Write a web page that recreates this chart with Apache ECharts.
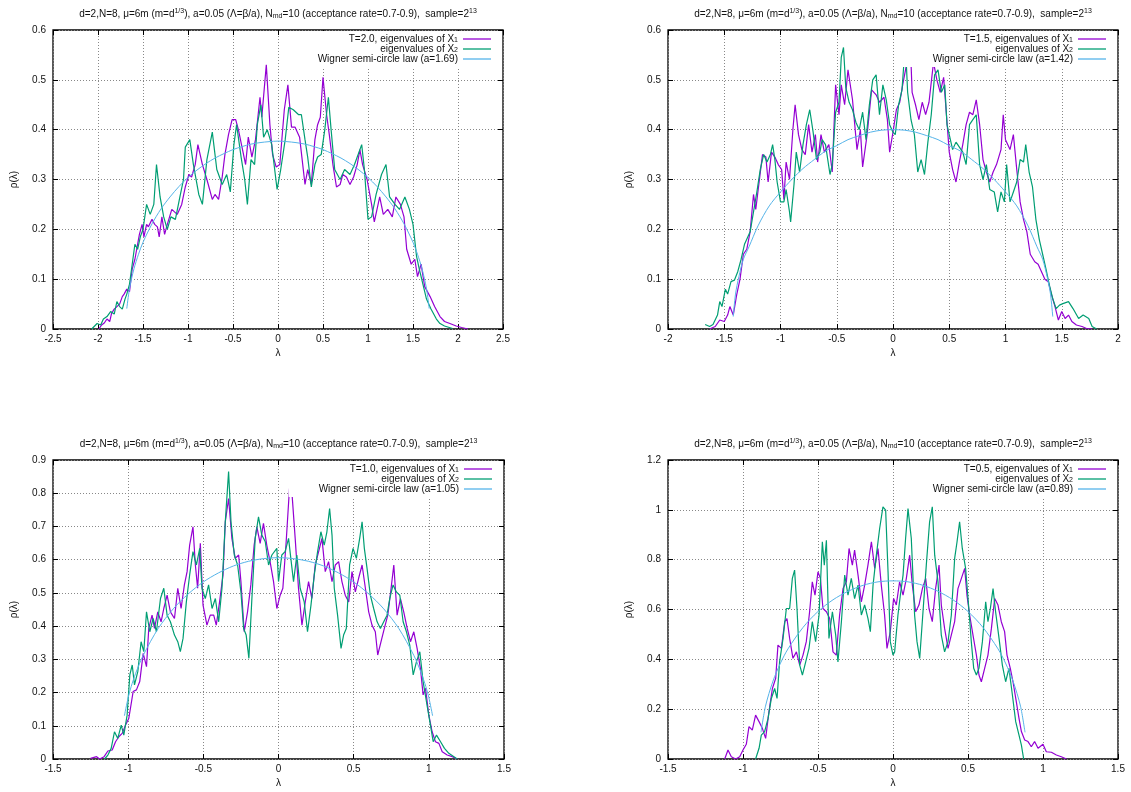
<!DOCTYPE html>
<html><head><meta charset="utf-8">
<script src="https://cdn.jsdelivr.net/npm/echarts@6/dist/echarts.min.js"></script>
<style>html,body{margin:0;padding:0;background:#fff}#c{width:1131px;height:792px}</style>
</head><body><div id="c"></div>
<script>
// ---------- DATA ----------
const temps = ['2.0', '1.5', '1.0', '0.5'];
const wignerA = ['1.69', '1.42', '1.05', '0.89'];
const xRanges = [[-2.5, 2.5, 0.5], [-2, 2, 0.5], [-1.5, 1.5, 0.5], [-1.5, 1.5, 0.5]];
const yRanges = [[0, 0.6, 0.1], [0, 0.6, 0.1], [0, 0.9, 0.1], [0, 1.2, 0.2]];

// panel 1 : T=2.0
const p1X1 = [[-1.99,0],[-1.96,0.008],[-1.93,0.012],[-1.90,0.02],[-1.87,0.015],[-1.85,0.031],[-1.82,0.04],[-1.79,0.045],[-1.76,0.05],[-1.73,0.065],[-1.71,0.07],[-1.68,0.08],[-1.65,0.075],[-1.62,0.12],[-1.59,0.14],[-1.57,0.16],[-1.54,0.19],[-1.51,0.21],[-1.49,0.185],[-1.46,0.21],[-1.44,0.205],[-1.40,0.22],[-1.37,0.21],[-1.34,0.205],[-1.32,0.185],[-1.29,0.225],[-1.26,0.19],[-1.23,0.21],[-1.21,0.21],[-1.18,0.24],[-1.15,0.235],[-1.12,0.23],[-1.07,0.25],[-1.03,0.285],[-0.99,0.31],[-0.96,0.305],[-0.92,0.33],[-0.89,0.37],[-0.84,0.33],[-0.79,0.30],[-0.73,0.26],[-0.70,0.27],[-0.66,0.26],[-0.62,0.305],[-0.59,0.35],[-0.55,0.39],[-0.51,0.42],[-0.47,0.42],[-0.44,0.40],[-0.40,0.365],[-0.36,0.33],[-0.33,0.385],[-0.29,0.345],[-0.25,0.38],[-0.20,0.465],[-0.18,0.425],[-0.13,0.53],[-0.09,0.41],[-0.06,0.35],[-0.02,0.325],[0.02,0.33],[0.07,0.44],[0.11,0.49],[0.15,0.405],[0.19,0.405],[0.24,0.385],[0.30,0.29],[0.33,0.32],[0.37,0.29],[0.41,0.38],[0.44,0.41],[0.47,0.425],[0.50,0.505],[0.54,0.43],[0.57,0.39],[0.61,0.33],[0.65,0.285],[0.69,0.29],[0.72,0.31],[0.76,0.305],[0.80,0.29],[0.84,0.305],[0.88,0.33],[0.91,0.36],[0.94,0.33],[0.99,0.30],[1.04,0.25],[1.07,0.215],[1.13,0.265],[1.17,0.23],[1.22,0.24],[1.27,0.225],[1.31,0.265],[1.36,0.25],[1.40,0.225],[1.43,0.16],[1.48,0.13],[1.52,0.14],[1.55,0.105],[1.59,0.13],[1.63,0.085],[1.66,0.075],[1.69,0.065],[1.74,0.045],[1.80,0.025],[1.85,0.015],[1.91,0.011],[1.98,0.006],[2.04,0.003],[2.11,0]];
const p1X2 = [[-2.07,0],[-2.01,0.011],[-1.97,0.008],[-1.94,0.02],[-1.90,0.025],[-1.86,0.035],[-1.82,0.03],[-1.79,0.055],[-1.76,0.045],[-1.73,0.04],[-1.70,0.06],[-1.68,0.07],[-1.65,0.09],[-1.62,0.13],[-1.59,0.17],[-1.56,0.16],[-1.53,0.185],[-1.50,0.2],[-1.46,0.25],[-1.42,0.23],[-1.38,0.25],[-1.35,0.33],[-1.31,0.265],[-1.27,0.225],[-1.23,0.20],[-1.19,0.225],[-1.14,0.22],[-1.09,0.265],[-1.05,0.30],[-1.03,0.365],[-0.98,0.38],[-0.94,0.33],[-0.88,0.27],[-0.84,0.25],[-0.79,0.34],[-0.73,0.395],[-0.68,0.32],[-0.62,0.29],[-0.57,0.31],[-0.53,0.275],[-0.49,0.37],[-0.46,0.41],[-0.41,0.345],[-0.37,0.30],[-0.34,0.25],[-0.30,0.34],[-0.26,0.33],[-0.23,0.41],[-0.19,0.45],[-0.16,0.385],[-0.12,0.40],[-0.07,0.37],[-0.01,0.28],[0.03,0.32],[0.08,0.38],[0.12,0.445],[0.17,0.44],[0.23,0.43],[0.26,0.43],[0.30,0.38],[0.33,0.345],[0.37,0.285],[0.41,0.33],[0.44,0.345],[0.48,0.35],[0.52,0.40],[0.56,0.465],[0.59,0.40],[0.63,0.32],[0.69,0.30],[0.74,0.32],[0.80,0.31],[0.85,0.33],[0.93,0.37],[0.96,0.32],[1.00,0.22],[1.04,0.225],[1.09,0.27],[1.15,0.31],[1.20,0.33],[1.24,0.265],[1.30,0.25],[1.35,0.24],[1.41,0.265],[1.46,0.24],[1.50,0.21],[1.54,0.145],[1.57,0.12],[1.61,0.09],[1.65,0.06],[1.70,0.04],[1.76,0.02],[1.80,0.011],[1.85,0.006],[1.94,0.001]];
const p1W = [[-1.68,0.041],[-1.65,0.081],[-1.6,0.121],[-1.55,0.150],[-1.5,0.174],[-1.4,0.211],[-1.3,0.241],[-1.2,0.265],[-1.1,0.286],[-1.0,0.304],[-0.9,0.319],[-0.8,0.332],[-0.7,0.343],[-0.6,0.352],[-0.5,0.360],[-0.4,0.366],[-0.3,0.371],[-0.2,0.374],[-0.1,0.376],[0,0.377],[0.1,0.376],[0.2,0.374],[0.3,0.371],[0.4,0.366],[0.5,0.360],[0.6,0.352],[0.7,0.343],[0.8,0.332],[0.9,0.319],[1.0,0.304],[1.1,0.286],[1.2,0.265],[1.3,0.241],[1.4,0.211],[1.5,0.174],[1.55,0.150],[1.6,0.121],[1.65,0.081],[1.68,0.041]];

// panel 2 : T=1.5
const p2X1 = [[-1.63,0],[-1.58,0.005],[-1.54,0.018],[-1.50,0.015],[-1.47,0.028],[-1.45,0.045],[-1.42,0.028],[-1.39,0.068],[-1.36,0.10],[-1.33,0.15],[-1.30,0.16],[-1.27,0.195],[-1.24,0.27],[-1.22,0.24],[-1.19,0.295],[-1.16,0.35],[-1.13,0.345],[-1.11,0.295],[-1.08,0.355],[-1.05,0.345],[-1.02,0.33],[-0.99,0.32],[-0.97,0.26],[-0.95,0.335],[-0.92,0.30],[-0.89,0.40],[-0.87,0.45],[-0.84,0.39],[-0.81,0.36],[-0.78,0.35],[-0.75,0.41],[-0.72,0.355],[-0.69,0.39],[-0.67,0.335],[-0.64,0.39],[-0.61,0.355],[-0.57,0.37],[-0.54,0.315],[-0.51,0.49],[-0.48,0.43],[-0.46,0.49],[-0.43,0.45],[-0.40,0.52],[-0.36,0.46],[-0.32,0.36],[-0.29,0.40],[-0.27,0.325],[-0.23,0.39],[-0.19,0.48],[-0.15,0.47],[-0.12,0.455],[-0.08,0.465],[-0.05,0.42],[-0.03,0.355],[0.00,0.395],[0.03,0.44],[0.06,0.455],[0.09,0.495],[0.12,0.53],[0.15,0.595],[0.17,0.475],[0.20,0.45],[0.23,0.42],[0.26,0.455],[0.29,0.43],[0.32,0.455],[0.36,0.535],[0.39,0.50],[0.42,0.475],[0.45,0.505],[0.48,0.415],[0.50,0.355],[0.53,0.32],[0.56,0.295],[0.59,0.335],[0.62,0.37],[0.65,0.41],[0.68,0.435],[0.71,0.43],[0.74,0.46],[0.77,0.41],[0.80,0.34],[0.83,0.315],[0.86,0.295],[0.89,0.315],[0.92,0.33],[0.96,0.36],[0.98,0.43],[1.00,0.38],[1.04,0.36],[1.07,0.39],[1.10,0.32],[1.13,0.255],[1.16,0.22],[1.19,0.195],[1.22,0.15],[1.26,0.135],[1.29,0.13],[1.32,0.115],[1.35,0.10],[1.38,0.095],[1.41,0.068],[1.44,0.045],[1.47,0.018],[1.50,0.035],[1.53,0.021],[1.56,0.028],[1.59,0.015],[1.63,0.008],[1.68,0.005],[1.72,0.001],[1.77,0]];
const p2X2 = [[-1.67,0.009],[-1.63,0.005],[-1.60,0.009],[-1.56,0.028],[-1.54,0.055],[-1.52,0.045],[-1.49,0.08],[-1.47,0.07],[-1.44,0.095],[-1.41,0.098],[-1.38,0.115],[-1.35,0.14],[-1.32,0.17],[-1.30,0.18],[-1.27,0.195],[-1.24,0.235],[-1.21,0.275],[-1.18,0.32],[-1.15,0.35],[-1.12,0.335],[-1.09,0.35],[-1.07,0.37],[-1.05,0.34],[-1.03,0.295],[-1.00,0.255],[-0.97,0.255],[-0.95,0.28],[-0.92,0.235],[-0.91,0.215],[-0.88,0.29],[-0.86,0.355],[-0.83,0.315],[-0.80,0.37],[-0.77,0.41],[-0.74,0.44],[-0.71,0.395],[-0.68,0.34],[-0.65,0.355],[-0.63,0.38],[-0.60,0.37],[-0.56,0.31],[-0.54,0.33],[-0.51,0.435],[-0.48,0.455],[-0.46,0.545],[-0.44,0.565],[-0.42,0.485],[-0.39,0.455],[-0.36,0.44],[-0.33,0.415],[-0.30,0.40],[-0.27,0.435],[-0.24,0.38],[-0.21,0.45],[-0.18,0.50],[-0.15,0.51],[-0.12,0.43],[-0.09,0.49],[-0.06,0.46],[-0.03,0.41],[0.00,0.395],[0.02,0.39],[0.05,0.45],[0.08,0.48],[0.11,0.575],[0.13,0.475],[0.16,0.42],[0.19,0.39],[0.22,0.315],[0.25,0.34],[0.28,0.31],[0.31,0.375],[0.34,0.43],[0.37,0.51],[0.40,0.52],[0.43,0.475],[0.46,0.49],[0.48,0.41],[0.50,0.39],[0.53,0.36],[0.56,0.375],[0.59,0.365],[0.62,0.355],[0.65,0.33],[0.68,0.41],[0.71,0.42],[0.74,0.43],[0.77,0.33],[0.80,0.30],[0.83,0.33],[0.86,0.28],[0.90,0.275],[0.93,0.235],[0.96,0.275],[0.99,0.255],[1.01,0.33],[1.04,0.255],[1.07,0.275],[1.10,0.295],[1.13,0.34],[1.16,0.335],[1.18,0.37],[1.21,0.315],[1.24,0.285],[1.27,0.22],[1.30,0.18],[1.33,0.15],[1.36,0.12],[1.39,0.088],[1.42,0.061],[1.45,0.041],[1.48,0.048],[1.51,0.051],[1.56,0.055],[1.60,0.041],[1.65,0.021],[1.69,0.028],[1.74,0.021],[1.77,0.005],[1.81,0]];
const p2W = [[-1.42,0.025],[-1.40,0.07],[-1.37,0.105],[-1.33,0.14],[-1.28,0.165],[-1.2,0.207],[-1.1,0.247],[-1.0,0.275],[-0.9,0.30],[-0.8,0.322],[-0.7,0.340],[-0.6,0.357],[-0.5,0.368],[-0.4,0.380],[-0.3,0.388],[-0.2,0.395],[-0.1,0.399],[0,0.40],[0.1,0.399],[0.2,0.395],[0.3,0.388],[0.4,0.380],[0.5,0.368],[0.6,0.357],[0.7,0.340],[0.8,0.322],[0.9,0.30],[1.0,0.275],[1.1,0.247],[1.2,0.207],[1.28,0.165],[1.33,0.14],[1.37,0.105],[1.40,0.07],[1.42,0.025]];

// panel 3 : T=1.0
const p3X1 = [[-1.25,0.002],[-1.21,0.007],[-1.19,0],[-1.16,0.007],[-1.135,0.024],[-1.106,0.027],[-1.084,0.052],[-1.062,0.067],[-1.04,0.077],[-1.018,0.102],[-0.996,0.122],[-0.985,0.152],[-0.967,0.203],[-0.945,0.208],[-0.923,0.233],[-0.90,0.318],[-0.878,0.278],[-0.863,0.393],[-0.841,0.433],[-0.825,0.393],[-0.803,0.443],[-0.781,0.413],[-0.763,0.453],[-0.741,0.493],[-0.719,0.443],[-0.692,0.423],[-0.670,0.514],[-0.648,0.453],[-0.626,0.524],[-0.608,0.564],[-0.591,0.644],[-0.569,0.699],[-0.553,0.584],[-0.538,0.514],[-0.52,0.649],[-0.502,0.463],[-0.476,0.403],[-0.454,0.433],[-0.431,0.433],[-0.414,0.403],[-0.392,0.473],[-0.369,0.554],[-0.354,0.714],[-0.332,0.784],[-0.31,0.664],[-0.288,0.604],[-0.265,0.614],[-0.25,0.534],[-0.228,0.383],[-0.206,0.443],[-0.184,0.524],[-0.162,0.644],[-0.144,0.699],[-0.122,0.649],[-0.10,0.709],[-0.078,0.644],[-0.056,0.594],[-0.033,0.534],[-0.011,0.453],[0.011,0.493],[0.029,0.514],[0.051,0.654],[0.073,0.814],[0.089,0.804],[0.111,0.664],[0.133,0.514],[0.156,0.403],[0.178,0.473],[0.20,0.534],[0.222,0.483],[0.244,0.584],[0.267,0.624],[0.289,0.664],[0.311,0.564],[0.333,0.594],[0.356,0.534],[0.378,0.584],[0.40,0.594],[0.422,0.534],[0.444,0.493],[0.467,0.473],[0.489,0.564],[0.511,0.503],[0.533,0.544],[0.556,0.584],[0.578,0.514],[0.60,0.443],[0.622,0.403],[0.644,0.383],[0.66,0.313],[0.682,0.353],[0.704,0.393],[0.727,0.433],[0.749,0.514],[0.767,0.584],[0.789,0.433],[0.811,0.483],[0.833,0.443],[0.856,0.393],[0.878,0.353],[0.90,0.383],[0.922,0.333],[0.944,0.273],[0.962,0.193],[0.978,0.213],[1.0,0.132],[1.022,0.082],[1.044,0.052],[1.067,0.047],[1.089,0.022],[1.122,0.012],[1.156,0.007],[1.189,0]];
const p3X2 = [[-1.157,0],[-1.135,0.012],[-1.113,0.032],[-1.091,0.082],[-1.069,0.062],[-1.046,0.102],[-1.029,0.072],[-1.007,0.132],[-0.989,0.253],[-0.973,0.283],[-0.958,0.223],[-0.936,0.263],[-0.914,0.353],[-0.896,0.323],[-0.878,0.443],[-0.856,0.383],[-0.834,0.423],[-0.812,0.383],[-0.785,0.483],[-0.763,0.514],[-0.741,0.433],[-0.719,0.413],[-0.692,0.373],[-0.670,0.353],[-0.653,0.323],[-0.635,0.363],[-0.613,0.473],[-0.591,0.554],[-0.569,0.624],[-0.546,0.584],[-0.524,0.634],[-0.509,0.514],[-0.487,0.483],[-0.465,0.524],[-0.442,0.453],[-0.42,0.483],[-0.398,0.413],[-0.376,0.514],[-0.354,0.714],[-0.332,0.865],[-0.316,0.714],[-0.294,0.614],[-0.272,0.584],[-0.25,0.503],[-0.232,0.393],[-0.215,0.373],[-0.197,0.303],[-0.177,0.483],[-0.155,0.664],[-0.133,0.729],[-0.111,0.674],[-0.088,0.654],[-0.066,0.584],[-0.044,0.614],[-0.011,0.634],[0,0.534],[0.022,0.614],[0.044,0.624],[0.067,0.664],[0.082,0.604],[0.10,0.534],[0.122,0.614],[0.144,0.514],[0.171,0.473],[0.193,0.383],[0.216,0.463],[0.238,0.554],[0.26,0.624],[0.282,0.684],[0.304,0.644],[0.322,0.684],[0.34,0.754],[0.356,0.674],[0.371,0.514],[0.393,0.433],[0.416,0.333],[0.433,0.373],[0.451,0.393],[0.473,0.584],[0.496,0.634],[0.518,0.604],[0.54,0.664],[0.556,0.714],[0.571,0.634],[0.589,0.574],[0.611,0.493],[0.633,0.453],[0.656,0.413],[0.678,0.393],[0.70,0.413],[0.722,0.433],[0.74,0.483],[0.762,0.524],[0.784,0.503],[0.807,0.493],[0.829,0.413],[0.851,0.383],[0.873,0.343],[0.896,0.253],[0.918,0.293],[0.94,0.323],[0.962,0.233],[0.984,0.173],[1.007,0.112],[1.029,0.052],[1.051,0.072],[1.078,0.052],[1.104,0.032],[1.133,0.017],[1.167,0.007],[1.189,0]];
const p3W = [[-1.025,0.13],[-1.0,0.185],[-0.98,0.218],[-0.95,0.258],[-0.9,0.312],[-0.8,0.393],[-0.7,0.452],[-0.6,0.497],[-0.5,0.533],[-0.4,0.560],[-0.3,0.581],[-0.2,0.595],[-0.1,0.603],[0,0.606],[0.1,0.603],[0.2,0.595],[0.3,0.581],[0.4,0.560],[0.5,0.533],[0.6,0.497],[0.7,0.452],[0.8,0.393],[0.9,0.312],[0.95,0.258],[0.98,0.218],[1.0,0.185],[1.025,0.13]];

// panel 4 : T=0.5
const p4X1 = [[-1.122,0],[-1.10,0.036],[-1.078,0.009],[-1.049,0],[-1.022,0.009],[-1.0,0.036],[-0.978,0.059],[-0.96,0.13],[-0.938,0.116],[-0.916,0.176],[-0.893,0.15],[-0.871,0.123],[-0.849,0.083],[-0.827,0.19],[-0.804,0.283],[-0.782,0.324],[-0.767,0.457],[-0.744,0.444],[-0.722,0.551],[-0.707,0.564],[-0.689,0.484],[-0.667,0.404],[-0.644,0.43],[-0.622,0.377],[-0.60,0.417],[-0.578,0.471],[-0.556,0.591],[-0.538,0.711],[-0.52,0.658],[-0.50,0.751],[-0.484,0.725],[-0.467,0.604],[-0.444,0.591],[-0.422,0.564],[-0.40,0.43],[-0.378,0.417],[-0.356,0.578],[-0.333,0.684],[-0.311,0.711],[-0.293,0.845],[-0.271,0.778],[-0.256,0.838],[-0.233,0.738],[-0.211,0.631],[-0.189,0.698],[-0.167,0.778],[-0.144,0.872],[-0.122,0.765],[-0.10,0.845],[-0.078,0.698],[-0.056,0.578],[-0.04,0.444],[-0.018,0.511],[0.004,0.644],[0.022,0.618],[0.044,0.711],[0.067,0.658],[0.089,0.725],[0.111,0.818],[0.129,0.698],[0.151,0.591],[0.173,0.618],[0.196,0.684],[0.218,0.725],[0.24,0.604],[0.262,0.551],[0.284,0.684],[0.307,0.778],[0.322,0.618],[0.344,0.524],[0.367,0.444],[0.389,0.498],[0.411,0.551],[0.433,0.684],[0.456,0.725],[0.478,0.765],[0.493,0.658],[0.511,0.578],[0.533,0.498],[0.556,0.417],[0.573,0.337],[0.589,0.31],[0.611,0.364],[0.633,0.417],[0.656,0.524],[0.678,0.644],[0.70,0.618],[0.722,0.551],[0.744,0.511],[0.76,0.417],[0.782,0.364],[0.80,0.31],[0.822,0.23],[0.84,0.163],[0.856,0.11],[0.878,0.076],[0.90,0.07],[0.922,0.049],[0.944,0.07],[0.967,0.043],[1.0,0.059],[1.022,0.029],[1.056,0.027],[1.089,0.016],[1.122,0.009],[1.156,0]];
const p4X2 = [[-0.916,0],[-0.893,0.043],[-0.878,0.096],[-0.856,0.11],[-0.833,0.163],[-0.811,0.243],[-0.789,0.283],[-0.773,0.243],[-0.756,0.39],[-0.733,0.484],[-0.711,0.604],[-0.689,0.604],[-0.671,0.725],[-0.656,0.758],[-0.64,0.604],[-0.622,0.377],[-0.604,0.337],[-0.582,0.39],[-0.56,0.444],[-0.538,0.551],[-0.516,0.471],[-0.493,0.578],[-0.471,0.872],[-0.458,0.778],[-0.444,0.878],[-0.427,0.484],[-0.404,0.591],[-0.382,0.497],[-0.367,0.39],[-0.344,0.551],[-0.322,0.738],[-0.30,0.658],[-0.278,0.725],[-0.256,0.644],[-0.233,0.698],[-0.211,0.578],[-0.189,0.618],[-0.167,0.564],[-0.151,0.511],[-0.133,0.698],[-0.111,0.818],[-0.089,0.925],[-0.067,1.012],[-0.049,0.999],[-0.033,0.751],[-0.018,0.471],[0,0.417],[0.011,0.43],[0.033,0.578],[0.049,0.658],[0.067,0.738],[0.084,0.885],[0.10,1.005],[0.122,0.885],[0.144,0.578],[0.16,0.471],[0.178,0.404],[0.20,0.591],[0.222,0.778],[0.244,0.952],[0.262,1.012],[0.278,0.818],[0.30,0.711],[0.322,0.497],[0.344,0.43],[0.367,0.471],[0.389,0.578],[0.411,0.805],[0.427,0.872],[0.444,0.952],[0.462,0.845],[0.484,0.765],[0.502,0.631],[0.522,0.471],[0.538,0.364],[0.556,0.337],[0.573,0.364],[0.596,0.471],[0.618,0.631],[0.633,0.551],[0.649,0.604],[0.667,0.684],[0.684,0.591],[0.707,0.484],[0.729,0.377],[0.751,0.31],[0.773,0.364],[0.796,0.257],[0.818,0.15],[0.84,0.096],[0.856,0.056],[0.871,0]];
const p4W = [[-0.88,0.107],[-0.85,0.212],[-0.8,0.313],[-0.75,0.385],[-0.7,0.442],[-0.6,0.528],[-0.5,0.592],[-0.4,0.639],[-0.3,0.673],[-0.2,0.697],[-0.1,0.711],[0,0.715],[0.1,0.711],[0.2,0.697],[0.3,0.673],[0.4,0.639],[0.5,0.592],[0.6,0.528],[0.7,0.442],[0.75,0.385],[0.8,0.313],[0.85,0.212],[0.88,0.107]];

const seriesX1 = [p1X1, p2X1, p3X1, p4X1];
const seriesX2 = [p1X2, p2X2, p3X2, p4X2];
const seriesW = [p1W, p2W, p3W, p4W];

// ---------- LAYOUT / STYLE ----------
const grids = [
  {left: 53, top: 30, width: 450, height: 299},
  {left: 668, top: 30, width: 450, height: 299},
  {left: 53, top: 460, width: 451, height: 299},
  {left: 668, top: 460, width: 450, height: 299}
];
const COL1 = '#9400d3', COL2 = '#009e73', COLW = '#56b4e9';
const FONT = 'Liberation Sans, Arial, sans-serif';
const TXT = '#111';

const titleText = '{n|d=2,N=8, \u03bc=6m (m=d}{sup|1/3}{n|), a=0.05 (\u039b=\u03b2/a), N}{sub|md}{n|=10 (acceptance rate=0.7-0.9),  sample=2}{sup|13}';
const rich = {
  n: {fontSize: 10, fontFamily: FONT, fontWeight: 'normal', color: TXT, lineHeight: 12},
  sup: {fontSize: 7, fontFamily: FONT, fontWeight: 'normal', color: TXT, lineHeight: 4, verticalAlign: 'top'},
  sub: {fontSize: 7, fontFamily: FONT, fontWeight: 'normal', color: TXT, lineHeight: 4, verticalAlign: 'bottom'}
};
const legRich = {
  n: {fontSize: 10, fontFamily: FONT, color: TXT, lineHeight: 10},
  sub: {fontSize: 7, fontFamily: FONT, color: TXT, lineHeight: 2, verticalAlign: 'bottom'}
};

const option = {animation: false, title: [], legend: [], grid: [], xAxis: [], yAxis: [], series: []};

grids.forEach((g, i) => {
  option.grid.push({left: g.left, top: g.top, width: g.width, height: g.height, show: true,
    borderColor: '#000', borderWidth: 1.3, backgroundColor: '#fff', containLabel: false});
  option.title.push({text: titleText, left: g.left + g.width / 2, top: g.top - 22, textAlign: 'center',
    padding: 0, textStyle: {fontWeight: 'normal', fontSize: 10, fontFamily: FONT, color: TXT, rich: rich}});
  const [xmin, xmax, xint] = xRanges[i];
  const [ymin, ymax, yint] = yRanges[i];
  const lbl = {fontSize: 10, fontFamily: FONT, color: TXT};
  const tick = {inside: true, length: 5, lineStyle: {color: '#000'}};
  option.xAxis.push({type: 'value', gridIndex: i, min: xmin, max: xmax, interval: xint,
    name: '\u03bb', nameLocation: 'middle', nameGap: 19, nameTextStyle: lbl,
    axisLine: {show: false, onZero: false}, axisTick: tick,
    axisLabel: Object.assign({margin: 5}, lbl),
    splitLine: {show: true, lineStyle: {color: '#888', type: [1, 2], width: 1}}});
  option.xAxis.push({type: 'value', gridIndex: i, position: 'top', min: xmin, max: xmax, interval: xint,
    axisLine: {show: false, onZero: false}, axisTick: tick,
    axisLabel: {show: false}, splitLine: {show: false}});
  option.yAxis.push({type: 'value', gridIndex: i, min: ymin, max: ymax, interval: yint,
    name: '\u03c1(\u03bb)', nameLocation: 'middle', nameGap: 34, nameTextStyle: lbl,
    axisLine: {show: false, onZero: false}, axisTick: tick,
    axisLabel: Object.assign({margin: 7}, lbl),
    splitLine: {show: true, lineStyle: {color: '#888', type: [1, 2], width: 1}}});
  option.yAxis.push({type: 'value', gridIndex: i, position: 'right', min: ymin, max: ymax, interval: yint,
    axisLine: {show: false, onZero: false}, axisTick: tick,
    axisLabel: {show: false}, splitLine: {show: false}});

  const n1 = 'T=' + temps[i] + ', eigenvalues of X1';
  const n2 = 'eigenvalues of X2';
  const n3 = 'Wigner semi-circle law (a=' + wignerA[i] + ')';
  const common = {type: 'line', xAxisIndex: 2 * i, yAxisIndex: 2 * i, symbol: 'none', showSymbol: false, z: 3};
  option.series.push(Object.assign({}, common, {name: n1, data: seriesX1[i], lineStyle: {color: COL1, width: 1.2}, itemStyle: {color: COL1}}));
  option.series.push(Object.assign({}, common, {name: n2, data: seriesX2[i], lineStyle: {color: COL2, width: 1.2}, itemStyle: {color: COL2}}));
  option.series.push(Object.assign({}, common, {name: n3, data: seriesW[i], smooth: 0.3, lineStyle: {color: COLW, width: 1}, itemStyle: {color: COLW}}));

  option.legend.push({
    data: [n1, n2, n3], orient: 'vertical', align: 'right', selectedMode: false,
    right: 1131 - (g.left + g.width) + 1, top: g.top + 1,
    padding: [3, 11, 3, 30], itemGap: 0, itemWidth: 28, itemHeight: 1.3, icon: 'rect',
    backgroundColor: '#fff', z: 4,
    formatter: function (name) {
      const m = name.match(/^(.*X)(\d)$/);
      return m ? '{n|' + m[1] + '}{sub|' + m[2] + '}' : '{n|' + name + '}';
    },
    textStyle: {fontSize: 10, fontFamily: FONT, color: TXT, rich: legRich}
  });
});

const chart = echarts.init(document.getElementById('c'), null, {renderer: 'canvas'});
chart.setOption(option);
</script>
</body></html>
